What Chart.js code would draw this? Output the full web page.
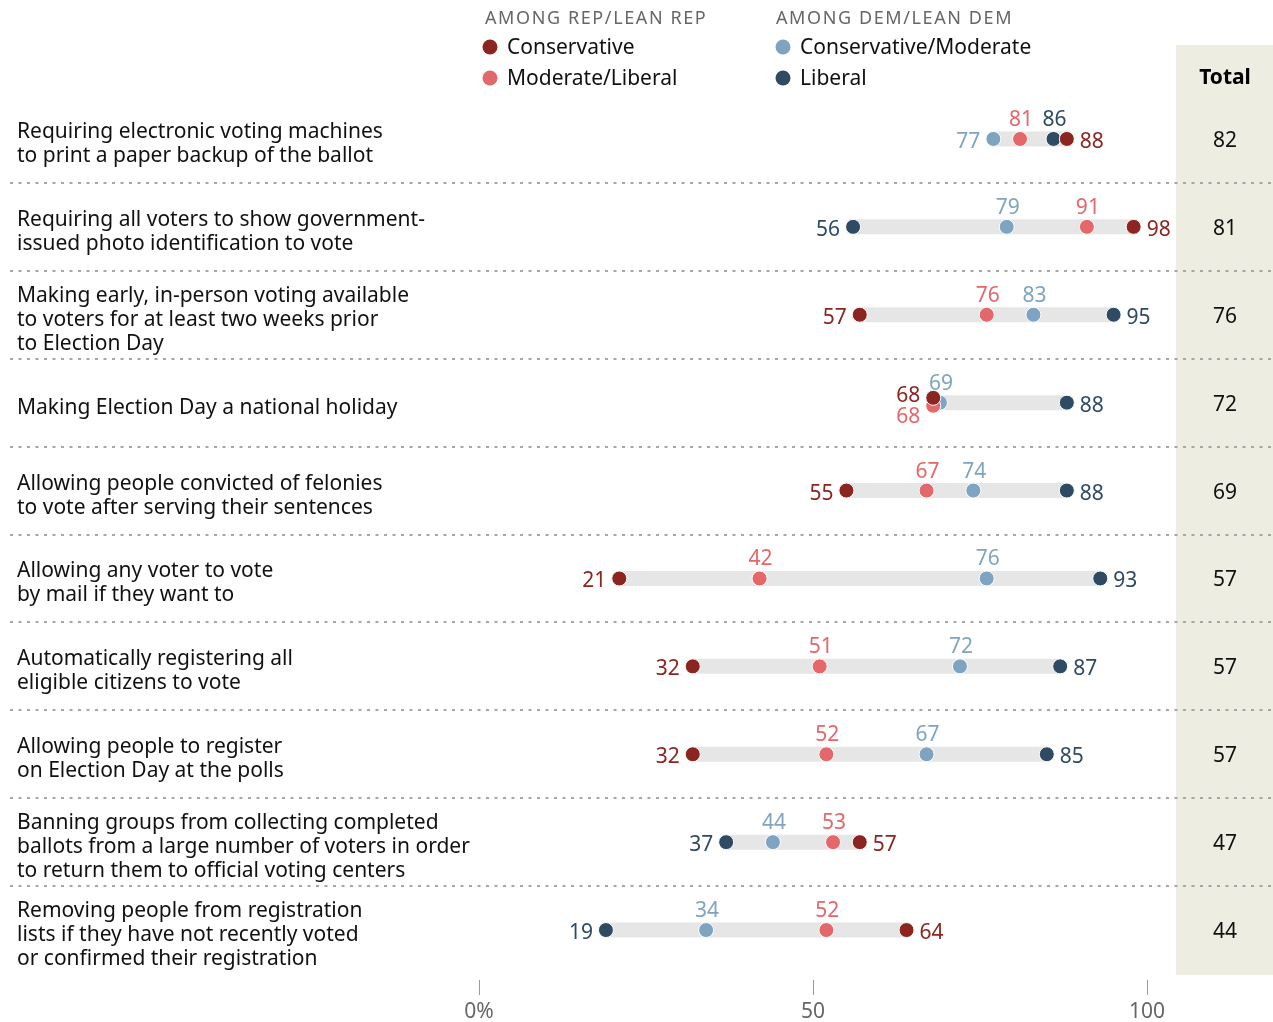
<!DOCTYPE html>
<html>
<head>
<meta charset="utf-8">
<script src="https://cdn.jsdelivr.net/npm/chart.js@4/dist/chart.umd.min.js"></script>
<style>
  html,body{margin:0;padding:0;background:#fff;}
  #wrap{width:1273px;height:1022px;position:relative;}
</style>
</head>
<body>
<div id="wrap"><canvas id="dots"></canvas></div>
<script>
// policy rows, top to bottom
var questions = [
  ["Requiring electronic voting machines", "to print a paper backup of the ballot"],
  ["Requiring all voters to show government-", "issued photo identification to vote"],
  ["Making early, in-person voting available", "to voters for at least two weeks prior", "to Election Day"],
  ["Making Election Day a national holiday"],
  ["Allowing people convicted of felonies", "to vote after serving their sentences"],
  ["Allowing any voter to vote", "by mail if they want to"],
  ["Automatically registering all", "eligible citizens to vote"],
  ["Allowing people to register", "on Election Day at the polls"],
  ["Banning groups from collecting completed", "ballots from a large number of voters in order", "to return them to official voting centers"],
  ["Removing people from registration", "lists if they have not recently voted", "or confirmed their registration"]
];
var repConservative = [88, 98, 57, 68, 55, 21, 32, 32, 57, 64];
var repModLib       = [81, 91, 76, 68, 67, 42, 51, 52, 53, 52];
var demConsMod      = [77, 79, 83, 69, 74, 76, 72, 67, 44, 34];
var demLiberal      = [86, 56, 95, 88, 88, 93, 87, 85, 37, 19];
var totals          = [82, 81, 76, 72, 69, 57, 57, 57, 47, 44];
var xTicks = [0, 50, 100];

var C_CONS = "#8c2420", C_MODLIB = "#e4676a", C_DEMCM = "#7fa4c1", C_LIB = "#2f4a63";
var FONT = "'Noto Sans', 'Liberation Sans', sans-serif";

// series in draw order (first = on top)
var series = [
  {name: "Conservative", vals: repConservative, color: C_CONS},
  {name: "Moderate/Liberal", vals: repModLib, color: C_MODLIB},
  {name: "Liberal", vals: demLiberal, color: C_LIB},
  {name: "Conservative/Moderate", vals: demConsMod, color: C_DEMCM}
];

// nudge rep dots apart when they tie
function dodge(s, i) {
  if (repConservative[i] !== repModLib[i]) return 0;
  if (s === 0) return -0.055;
  if (s === 1) return 0.035;
  return 0;
}

var datasets = [];
series.forEach(function(s, si) {
  datasets.push({
    label: s.name,
    data: s.vals.map(function(v, i){ return {x: v, y: i + dodge(si, i)}; }),
    backgroundColor: s.color,
    borderColor: "#fff",
    borderWidth: 1,
    pointRadius: 7.5,
    pointHoverRadius: 7.5,
    order: si + 1
  });
});
questions.forEach(function(q, i) {
  var all = series.map(function(s){ return s.vals[i]; });
  datasets.push({
    data: [{x: Math.min.apply(null, all), y: i}, {x: Math.max.apply(null, all), y: i}],
    showLine: true,
    borderColor: "#e6e6e6",
    borderWidth: 15,
    borderCapStyle: "butt",
    pointRadius: 0,
    order: 20
  });
});

var backdrop = {
  id: "backdrop",
  beforeDraw: function(chart) {
    var ctx = chart.ctx, y = chart.scales.y;
    ctx.save();
    // total column
    ctx.fillStyle = "#edede2";
    ctx.fillRect(1176, 45, 97, 930);
    ctx.font = "bold 21px " + FONT;
    ctx.fillStyle = "#000";
    ctx.textAlign = "center";
    ctx.textBaseline = "middle";
    ctx.fillText("Total", 1225, 78);
    // separators
    ctx.strokeStyle = "#a6a6a6";
    ctx.lineWidth = 2;
    ctx.setLineDash([3, 5.5]);
    for (var i = 0; i < questions.length - 1; i++) {
      var yy = Math.round(y.getPixelForValue(i + 0.5)) ;
      ctx.beginPath();
      ctx.moveTo(10, yy);
      ctx.lineTo(1273, yy);
      ctx.stroke();
    }
    ctx.setLineDash([]);
    // row labels and totals
    ctx.font = "21px " + FONT;
    questions.forEach(function(q, i) {
      var cy = y.getPixelForValue(i);
      ctx.textAlign = "left";
      ctx.fillStyle = "#111";
      q.forEach(function(line, k) {
        ctx.fillText(line, 17, cy + (k - (q.length - 1) / 2) * 24 + 5);
      });
      ctx.textAlign = "center";
      ctx.fillText(totals[i], 1225, cy + 2);
    });
    // legend
    ctx.textAlign = "left";
    ctx.font = "18px " + FONT;
    ctx.fillStyle = "#666";
    if ("letterSpacing" in ctx) ctx.letterSpacing = "1.6px";
    ctx.fillText("AMONG REP/LEAN REP", 485, 19);
    ctx.fillText("AMONG DEM/LEAN DEM", 776, 19);
    if ("letterSpacing" in ctx) ctx.letterSpacing = "0px";
    var leg = [
      [490, 47, C_CONS, "Conservative"], [490, 78, C_MODLIB, "Moderate/Liberal"],
      [783, 47, C_DEMCM, "Conservative/Moderate"], [783, 78, C_LIB, "Liberal"]
    ];
    ctx.font = "21px " + FONT;
    leg.forEach(function(l) {
      ctx.fillStyle = l[2];
      ctx.beginPath();
      ctx.arc(l[0], l[1], 7.5, 0, Math.PI * 2);
      ctx.fill();
      ctx.fillStyle = "#111";
      ctx.fillText(l[3], l[0] + 17, l[1] + 1.5);
    });
    ctx.restore();
  }
};

var valueLabels = {
  id: "valueLabels",
  afterDatasetsDraw: function(chart) {
    var ctx = chart.ctx, x = chart.scales.x, y = chart.scales.y;
    ctx.save();
    ctx.font = "21px " + FONT;
    ctx.textBaseline = "middle";
    questions.forEach(function(q, i) {
      var all = series.map(function(s){ return s.vals[i]; });
      var lo = Math.min.apply(null, all), hi = Math.max.apply(null, all);
      var cy = y.getPixelForValue(i);
      var tie = repConservative[i] === repModLib[i];
      series.forEach(function(s, si) {
        var v = s.vals[i], px = x.getPixelForValue(v);
        ctx.fillStyle = s.color;
        var ly = cy + 3;
        if (tie && si === 0) ly = cy - 7;
        if (tie && si === 1) ly = cy + 14;
        if (v === lo) {
          ctx.textAlign = "right";
          ctx.fillText(v, px - 13, ly);
        } else if (v === hi) {
          ctx.textAlign = "left";
          ctx.fillText(v, px + 13, ly);
        } else {
          ctx.textAlign = "center";
          ctx.fillText(v, px + 1, cy - 19);
        }
      });
    });
    ctx.restore();
  }
};

new Chart(document.getElementById("dots"), {
  type: "scatter",
  data: {datasets: datasets},
  plugins: [backdrop, valueLabels],
  options: {
    responsive: true,
    maintainAspectRatio: false,
    animation: false,
    events: [],
    layout: {padding: {left: 479, right: 126, top: 95, bottom: 0}},
    plugins: {legend: {display: false}, tooltip: {enabled: false}},
    scales: {
      x: {
        min: 0, max: 100,
        afterBuildTicks: function(scale) {
          scale.ticks = xTicks.map(function(v){ return {value: v}; });
        },
        afterFit: function(scale) { scale.height = 42; },
        border: {display: false},
        grid: {drawOnChartArea: false, drawTicks: true, tickLength: 15, color: "#9a9a9a", lineWidth: 1},
        ticks: {
          padding: 4,
          color: "#666",
          font: {family: FONT, size: 21},
          maxRotation: 0,
          callback: function(v) { return v === 0 ? "0%" : v; }
        }
      },
      y: {
        display: false,
        reverse: true,
        min: -0.5,
        max: 9.568
      }
    }
  }
});
</script>
</body>
</html>
